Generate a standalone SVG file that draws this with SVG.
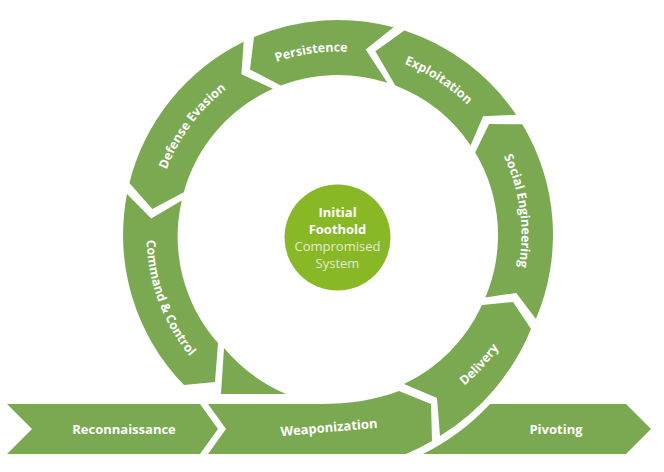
<svg xmlns="http://www.w3.org/2000/svg" xmlns:xlink="http://www.w3.org/1999/xlink" width="664" height="472" viewBox="0 0 664 472">
<defs>
<style>
.seg{fill:#7aa952}
.lbl{font-family:"Open Sans","Liberation Sans",sans-serif;font-weight:700;font-size:12.5px;fill:#ffffff}
.bar{font-size:13px;text-anchor:middle}
.ctr{font-family:"Open Sans","Liberation Sans",sans-serif;font-size:13px;text-anchor:middle}
.ctr-b{font-weight:700;fill:#ffffff}
.ctr-r{font-weight:400;fill:#e2ecd0}
</style>
<path id="tp-pers" d="M 201.0,112.9 A 183.5 183.5 0 0 1 434.4,78.9" fill="none"/>
<path id="tp-expl" d="M 315.6,52.9 A 183.5 183.5 0 0 1 513.5,181.3" fill="none"/>
<path id="tp-soc" d="M 461.5,99.3 A 183.5 183.5 0 0 1 493.1,333.1" fill="none"/>
<path id="tp-def" d="M 154.8,245.6 A 183.5 183.5 0 0 1 295.8,56.4" fill="none"/>
<path id="tp-cc" d="M 157.6,170.8 A 191.5 191.5 0 0 0 243.4,401.5" fill="none"/>
<path id="tp-del" d="M 363.6,429.8 A 196.5 196.5 0 0 0 534.3,243.6" fill="none"/>
</defs>
<rect width="664" height="472" fill="#ffffff"/>

<g id="reconnaissance">
<path class="seg" d="M 7,404 L 200,404 L 218,429 L 200,454 L 7,454 L 32,429 Z"/>
<text class="lbl bar" x="124" y="434">Reconnaissance</text>
</g>

<g id="weaponization">
<path class="seg" d="M 208,404 L 320,404 C 350,404 375,400 399,391 L 431,404 L 432,441 A 226 226 0 0 1 406,454 L 208,454 L 226,429 Z"/>
<text class="lbl bar" x="329" y="432" transform="rotate(-5 329 428)">Weaponization</text>
</g>

<g id="delivery">
<path class="seg" d="M 440,436 A 226 226 0 0 0 531,329 L 513,302 L 482,305 A 162 162 0 0 1 404,384 L 437,398 Z"/>
<text class="lbl"><textPath xlink:href="#tp-del" startOffset="50%" text-anchor="middle">Delivery</textPath></text>
</g>

<g id="social-engineering">
<path class="seg" d="M 535.9,319.0 A 215 215 0 0 0 522.3,124.3 L 489.1,124.0 L 475.2,152.6 A 160 160 0 0 1 485.3,297.5 L 516.3,292.9 Z"/>
<text class="lbl"><textPath xlink:href="#tp-soc" startOffset="50%" text-anchor="middle">Social Engineering</textPath></text>
</g>

<g id="exploitation">
<path class="seg" d="M 516.2,114.8 A 215 215 0 0 0 404.4,30.5 L 375.4,51.3 L 395.3,85.6 A 160 160 0 0 1 470.6,145.5 L 483.1,116.2 Z"/>
<text class="lbl"><textPath xlink:href="#tp-expl" startOffset="50%" text-anchor="middle">Exploitation</textPath></text>
</g>

<g id="persistence">
<path class="seg" d="M 393.6,27.3 A 215 215 0 0 0 254.0,37.1 L 250.0,69.5 L 280.7,85.6 A 160 160 0 0 1 387.4,82.8 L 365.7,49.6 Z"/>
<text class="lbl"><textPath xlink:href="#tp-pers" startOffset="50%" text-anchor="middle">Persistence</textPath></text>
</g>

<g id="defense-evasion">
<path class="seg" d="M 243.7,41.8 A 215 215 0 0 0 129.4,183.0 L 152.3,208.9 L 183.8,192.2 A 160 160 0 0 1 272.9,88.8 L 241.4,74.3 Z"/>
<text class="lbl"><textPath xlink:href="#tp-def" startOffset="50%" text-anchor="middle">Defense Evasion</textPath></text>
</g>

<g id="command-control">
<path class="seg" d="M 127.0,194.0 A 215 215 0 0 0 184,385 L 215,382 L 218,343 A 160 160 0 0 1 181.8,200.4 L 151.2,218.6 Z"/>
<path class="seg" d="M 224,348 L 221,394 L 286,394 A 168 168 0 0 1 224,348 Z"/>
<text class="lbl"><textPath xlink:href="#tp-cc" startOffset="50%" text-anchor="middle">Command &amp; Control</textPath></text>
</g>

<g id="pivoting">
<path class="seg" d="M 490,404 L 626,404 L 651,429 L 626,454 L 423,454 A 233 233 0 0 0 490,404 Z"/>
<text class="lbl bar" x="556" y="434">Pivoting</text>
</g>

<g id="initial-foothold">
<circle cx="337.5" cy="237.5" r="53" fill="#88b826"/>
<text class="ctr ctr-b" x="337.5" y="217">Initial</text>
<text class="ctr ctr-b" x="337.5" y="234">Foothold</text>
<text class="ctr ctr-r" x="337.5" y="251">Compromised</text>
<text class="ctr ctr-r" x="337.5" y="268">System</text>
</g>
</svg>
